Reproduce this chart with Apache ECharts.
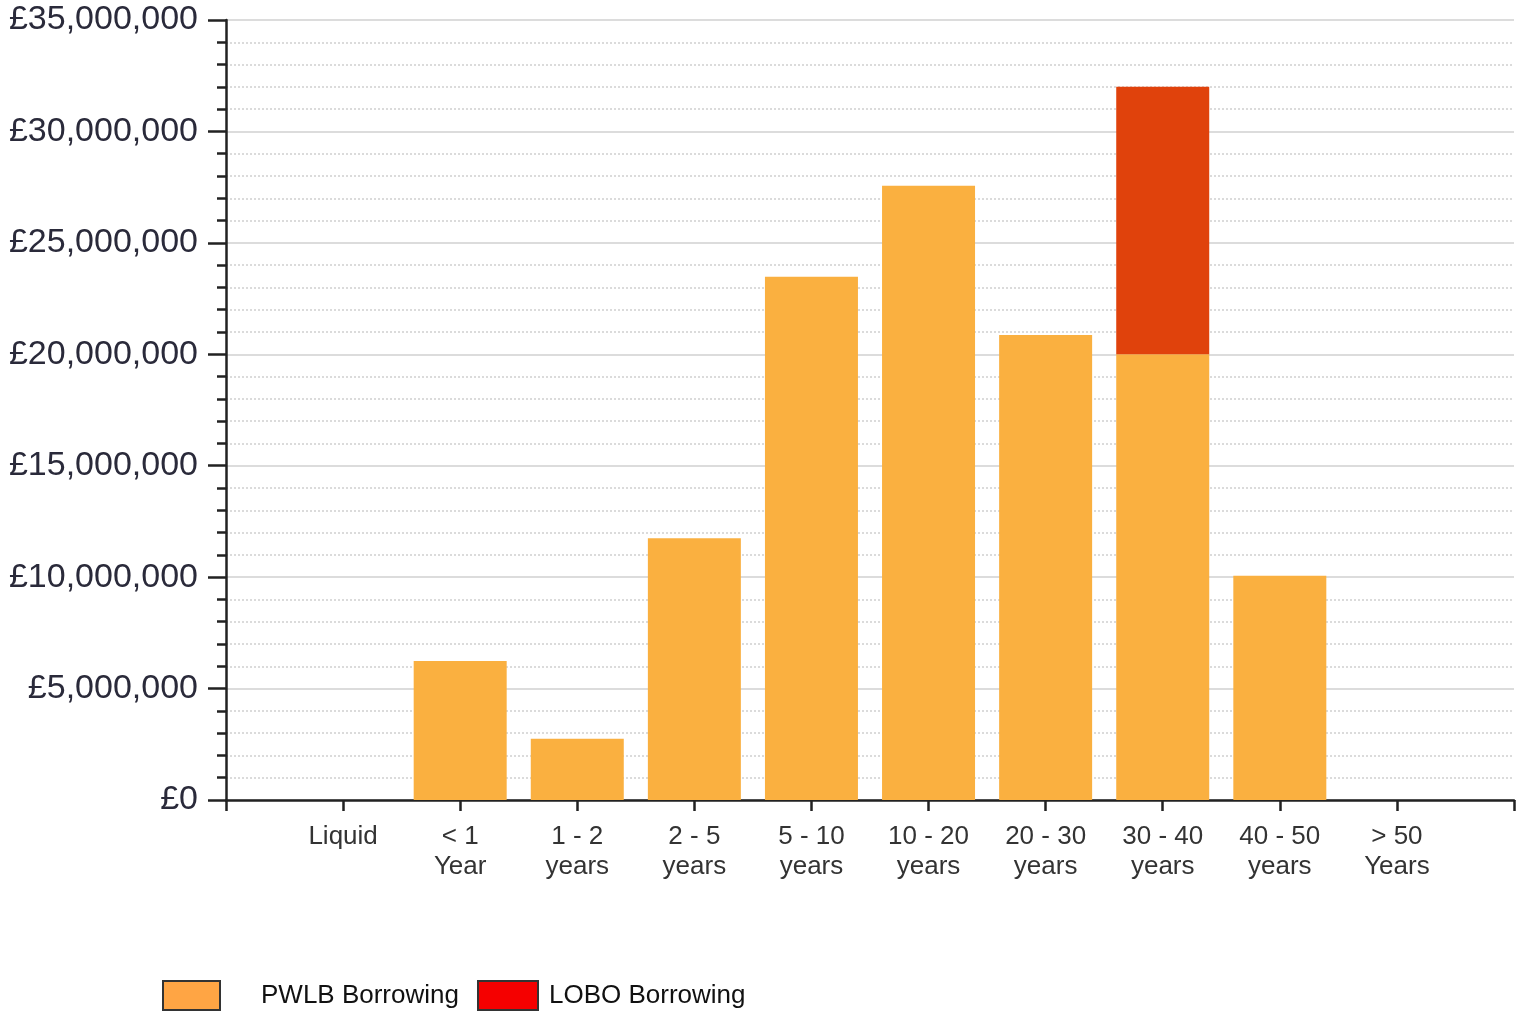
<!DOCTYPE html>
<html>
<head>
<meta charset="utf-8">
<script src="https://cdn.jsdelivr.net/npm/echarts@6/dist/echarts.min.js"></script>
<style>
html,body{margin:0;padding:0;background:#fff;}
#chart{width:1517px;height:1011px;}
</style>
</head>
<body>
<div id="chart"></div>
<script>
// Categories (blank entries pad the axis ends)
const categories = ['', 'Liquid', '< 1\nYear', '1 - 2\nyears', '2 - 5\nyears', '5 - 10\nyears', '10 - 20\nyears', '20 - 30\nyears', '30 - 40\nyears', '40 - 50\nyears', '> 50\nYears', ''];
const pwlb = [null, 0, 6240000, 2750000, 11740000, 23480000, 27560000, 20860000, 20000000, 10060000, 0, null];
const lobo = [null, 0, 0, 0, 0, 0, 0, 0, 12000000, 0, 0, null];
const yTicks = [0, 5000000, 10000000, 15000000, 20000000, 25000000, 30000000, 35000000];

function fmt(v){
  return '£' + String(Math.round(v)).replace(/\B(?=(\d{3})+(?!\d))/g, ',');
}

const chart = echarts.init(document.getElementById('chart'));
chart.setOption({
  animation: false,
  backgroundColor: '#fff',
  grid: {left: 226, right: 2, top: 20, bottom: 211, containLabel: false},
  xAxis: {
    type: 'category',
    data: categories,
    boundaryGap: false,
    axisLine: {lineStyle: {color: '#222', width: 2.5}},
    axisTick: {show: true, length: 11, lineStyle: {color: '#222', width: 2.5}, alignWithLabel: true},
    axisLabel: {interval: 0, margin: 22, color: '#333', fontFamily: 'Liberation Sans', fontSize: 26, lineHeight: 30, align: 'center'},
    splitLine: {show: false}
  },
  yAxis: {
    type: 'value',
    min: yTicks[0],
    max: yTicks[yTicks.length - 1],
    interval: yTicks[1] - yTicks[0],
    axisLine: {show: true, lineStyle: {color: '#222', width: 2.5}},
    axisTick: {show: true, length: 18, lineStyle: {color: '#222', width: 2.5}},
    minorTick: {show: true, splitNumber: 5, length: 9, lineStyle: {color: '#222', width: 2.5}},
    axisLabel: {margin: 28, color: '#2a2a3a', fontFamily: 'Liberation Sans', fontSize: 34, formatter: fmt},
    splitLine: {show: true, lineStyle: {color: '#dcdcdc', width: 2}},
    minorSplitLine: {show: true, lineStyle: {color: '#d0d0d0', width: 1.5, type: [2, 2]}}
  },
  legend: [
    {
      left: 162, top: 980, padding: 0, itemWidth: 57, itemHeight: 29, icon: 'rect',
      data: [{name: 'PWLB Borrowing', itemStyle: {color: '#FFA544', borderColor: '#333', borderWidth: 2}}],
      textStyle: {fontFamily: 'Liberation Sans', fontSize: 26, color: '#111', padding: [0, 0, 0, 36]}
    },
    {
      left: 477, top: 980, padding: 0, itemWidth: 60, itemHeight: 29, icon: 'rect',
      data: [{name: 'LOBO Borrowing', itemStyle: {color: '#F50000', borderColor: '#333', borderWidth: 2}}],
      textStyle: {fontFamily: 'Liberation Sans', fontSize: 26, color: '#111', padding: [0, 0, 0, 6]}
    }
  ],
  series: [
    {name: 'PWLB Borrowing', type: 'bar', stack: 'total', data: pwlb, barWidth: 93, itemStyle: {color: '#FAB040'}},
    {name: 'LOBO Borrowing', type: 'bar', stack: 'total', data: lobo, barWidth: 93, itemStyle: {color: '#E0420C'}}
  ]
});
</script>
</body>
</html>
